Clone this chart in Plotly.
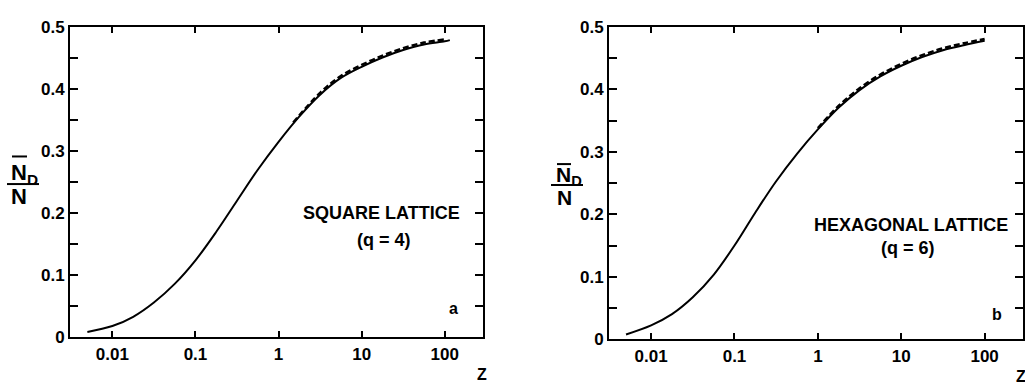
import plotly.graph_objects as go

W, H = 1025, 391

# ---- data ----
z_sq = [0.005, 0.01, 0.0178, 0.0316, 0.0562, 0.1, 0.178, 0.316, 0.562, 1.0,
        1.78, 3.16, 5.62, 10, 17.8, 31.6, 56.2, 100, 115]
nd_sq = [0.0085, 0.018, 0.033, 0.056, 0.086, 0.124, 0.170, 0.220, 0.270, 0.315,
         0.356, 0.391, 0.418, 0.436, 0.451, 0.463, 0.472, 0.477, 0.479]
z_sq_d = [1.5, 3.16, 5.62, 10, 17.8, 31.6, 56.2, 100]
nd_sq_d = [0.346, 0.394, 0.421, 0.439, 0.454, 0.466, 0.475, 0.480]

z_hx = [0.005, 0.01, 0.0178, 0.0316, 0.0562, 0.1, 0.178, 0.316, 0.562, 1.0,
        1.78, 3.16, 5.62, 10, 17.8, 31.6, 56.2, 100]
nd_hx = [0.0075, 0.022, 0.040, 0.067, 0.103, 0.150, 0.203, 0.253, 0.297, 0.336,
         0.371, 0.399, 0.421, 0.438, 0.452, 0.463, 0.471, 0.478]
z_hx_d = [1.0, 1.78, 3.16, 5.62, 10, 17.8, 31.6, 56.2, 100]
nd_hx_d = [0.338, 0.374, 0.402, 0.424, 0.441, 0.455, 0.466, 0.474, 0.481]

x_tickvals = [0.01, 0.1, 1, 10, 100]
x_ticktext = ["<b>0.01</b>", "<b>0.1</b>", "<b>1</b>", "<b>10</b>", "<b>100</b>"]
y_tickvals = [0, 0.1, 0.2, 0.3, 0.4, 0.5]
y_ticktext = ["<b>0</b>", "<b>0.1</b>", "<b>0.2</b>", "<b>0.3</b>", "<b>0.4</b>", "<b>0.5</b>"]

FONT = "Liberation Sans, Arial, sans-serif"

fig = go.Figure()
fig.add_trace(go.Scatter(x=z_sq, y=nd_sq, mode="lines", line=dict(color="black", width=2, shape="spline"),
                         xaxis="x", yaxis="y", showlegend=False))
fig.add_trace(go.Scatter(x=z_sq_d, y=nd_sq_d, mode="lines",
                         line=dict(color="black", width=2.5, dash="6px,3px", shape="spline"),
                         xaxis="x", yaxis="y", showlegend=False))
fig.add_trace(go.Scatter(x=z_hx, y=nd_hx, mode="lines", line=dict(color="black", width=2, shape="spline"),
                         xaxis="x2", yaxis="y2", showlegend=False))
fig.add_trace(go.Scatter(x=z_hx_d, y=nd_hx_d, mode="lines",
                         line=dict(color="black", width=2.5, dash="6px,3px", shape="spline"),
                         xaxis="x2", yaxis="y2", showlegend=False))


def xax(domain, anchor, rng):
    return dict(type="log", domain=domain, anchor=anchor, range=rng,
                tickvals=x_tickvals, ticktext=x_ticktext, ticks="inside", ticklen=6,
                tickwidth=2, tickcolor="black", showline=True, linewidth=2, linecolor="black",
                mirror="ticks", showgrid=False, zeroline=False,
                tickfont=dict(family=FONT, size=17, color="black"))


def yax(domain, anchor):
    return dict(domain=domain, anchor=anchor, range=[0, 0.5],
                tickvals=y_tickvals, ticktext=y_ticktext, ticks="inside", ticklen=8,
                tickwidth=2, tickcolor="black", showline=True, linewidth=2, linecolor="black",
                mirror="ticks", showgrid=False, zeroline=False,
                minor=dict(ticks="inside", dtick=0.05, ticklen=8, tickwidth=2, tickcolor="black",
                           showgrid=False),
                tickfont=dict(family=FONT, size=17, color="black"))


fig.update_layout(
    width=W, height=H, margin=dict(l=0, r=0, t=0, b=0),
    paper_bgcolor="white", plot_bgcolor="white",
    xaxis=xax([70 / W, 483 / W], "y", [-2.51, 2.46]),
    yaxis=yax([1 - 345 / H, 1 - 19 / H], "x"),
    xaxis2=xax([609 / W, 1023 / W], "y2", [-2.505, 2.46]),
    yaxis2=yax([1 - 347 / H, 1 - 19 / H], "x2"),
)


def px(x, y):
    return x / W, 1 - y / H


def ann(text, x, y, size, bold=True, xanchor="center"):
    ax, ay = px(x, y)
    t = "<b>" + text + "</b>" if bold else text
    fig.add_annotation(text=t, x=ax, y=ay, xref="paper", yref="paper", showarrow=False,
                       xanchor=xanchor, yanchor="middle",
                       font=dict(family=FONT, size=size, color="black"))


def hline(x0, x1, y, w=2):
    a0, b0 = px(x0, y)
    a1, _ = px(x1, y)
    fig.add_shape(type="line", xref="paper", yref="paper", x0=a0, x1=a1, y0=b0, y1=b0,
                  line=dict(color="black", width=w))


# panel texts
ann("SQUARE LATTICE", 381, 214, 18)
ann("(q = 4)", 384, 243, 18)
ann("a", 453, 315, 16)
ann("HEXAGONAL LATTICE", 911, 227, 18)
ann("(q = 6)", 908, 251, 18)
ann("b", 997, 321, 16)
ann("Z", 482, 384, 16)
ann("Z", 1021, 386, 16)

# y-axis titles: N-bar_D / N
ann("N<sub>D</sub>", 9, 173, 22, xanchor="left")
hline(12, 27, 155)
hline(7, 39, 184)
ann("N", 19, 197, 22)

ann("N<sub>D</sub>", 554, 176, 21, xanchor="left")
hline(557, 571, 163)
hline(551, 583, 185)
ann("N", 564, 198, 21)

fig.write_html("out.html")
